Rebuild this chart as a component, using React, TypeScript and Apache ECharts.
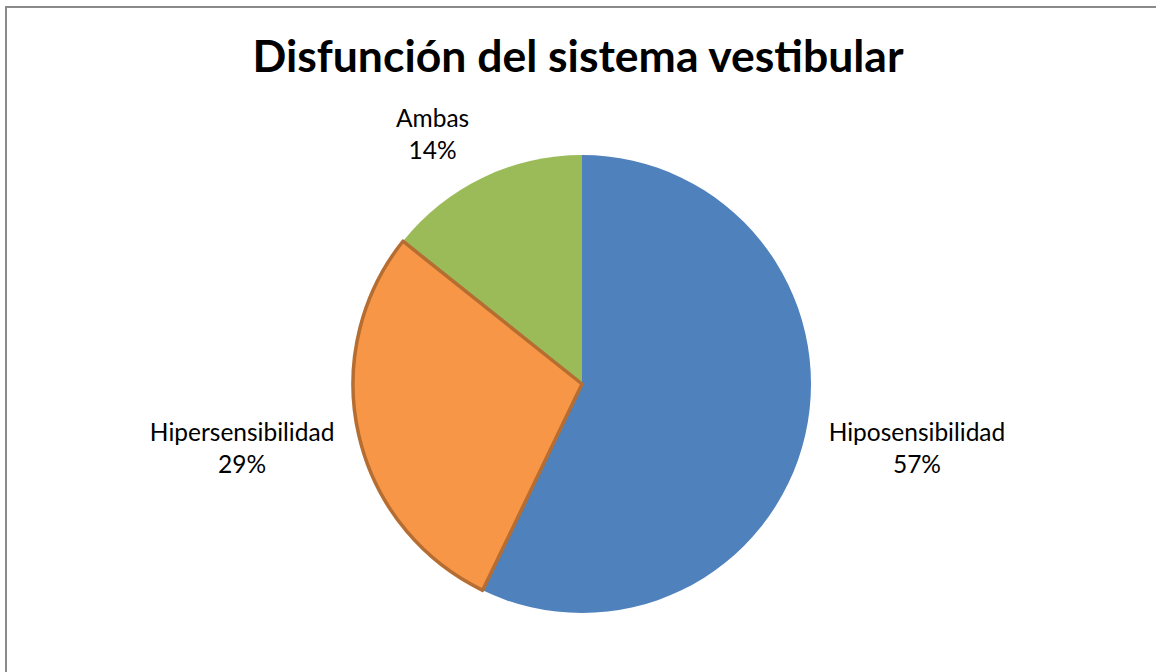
import React, { useEffect, useRef } from "react";
import * as echarts from "echarts";

const TITLE = "Disfunción del sistema vestibular";
const categories = ["Hiposensibilidad", "Hipersensibilidad", "Ambas"];
const values = [4, 2, 1];
const colors = ["#4F81BD", "#F79646", "#9BBB59"];
const borderColors = ["#4F81BD", "#B66D31", "#9BBB59"];
const borderWidths = [0, 3.5, 0];
// label nudges (px) keyed by category
const labelShift: Record<string, [number, number]> = {
  Hiposensibilidad: [0, 7],
  Hipersensibilidad: [-1, 7],
  Ambas: [-3, -23],
};

export default function App() {
  const ref = useRef<HTMLDivElement>(null);
  useEffect(() => {
    if (!ref.current) return;
    const chart = echarts.init(ref.current, null, { renderer: "svg" });
    const total = values.reduce((a, b) => a + b, 0);
    // draw the last category first so the highlighted (orange) slice is painted on top
    const order = [categories.length - 1, ...categories.map((_, i) => i).slice(0, -1)];
    const startAngle = 90 + (360 * values[values.length - 1]) / total;
    const data = order.map((i) => ({
      name: categories[i],
      value: values[i],
      itemStyle: {
        color: colors[i],
        borderColor: borderColors[i],
        borderWidth: borderWidths[i],
      },
    }));
    chart.setOption({
      animation: false,
      backgroundColor: "#ffffff",
      title: {
        text: TITLE,
        left: "center",
        top: 27,
        textStyle: {
          fontFamily: "Lato",
          fontWeight: "bold",
          fontSize: 44.5,
          color: "#000000",
        },
      },
      graphic: [
        {
          type: "rect",
          shape: { x: 6, y: 7, width: 1300, height: 800 },
          style: { fill: "none", stroke: "#8a8a8a", lineWidth: 2 },
          silent: true,
        },
      ],
      series: [
        {
          type: "pie",
          center: [582, 384],
          radius: 229,
          startAngle,
          clockwise: true,
          percentPrecision: 0,
          data,
          emphasis: { disabled: true },
          label: {
            show: true,
            position: "outside",
            formatter: "{n|{b}}\n{n|{d}%}",
            distanceToLabelLine: 0,
            rich: {
              n: {
                align: "center",
                fontFamily: "Lato",
                fontSize: 24.5,
                lineHeight: 32,
                color: "#000000",
              },
            },
          },
          labelLine: { show: false, length: 24, length2: 0 },
          labelLayout: (params: any) => {
            const s = labelShift[data[params.dataIndex].name] || [0, 0];
            return { dx: s[0], dy: s[1] };
          },
        },
      ],
    });
    return () => chart.dispose();
  }, []);
  return (
    <div
      ref={ref}
      style={{ position: "absolute", left: 0, top: 0, width: 1156, height: 672 }}
    />
  );
}
